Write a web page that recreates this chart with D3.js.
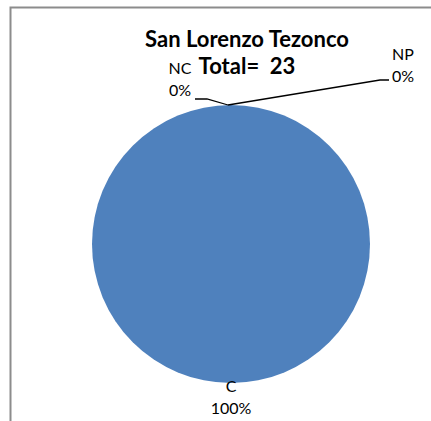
<!DOCTYPE html>
<html>
<head>
<meta charset="utf-8">
<script src="https://cdn.jsdelivr.net/npm/d3@7"></script>
<style>
  body { margin: 0; background: #fff; }
  text { font-family: Lato, "Open Sans", sans-serif; white-space: pre; }
</style>
</head>
<body>
<div id="chart"></div>
<script>
const categories = ["C", "NC", "NP"]
const values = [23, 0, 0]
const title = "San Lorenzo Tezonco"
const subtitle = "Total=  23"

const width = 431
const height = 421
const cx = 231, cy = 244, radius = 139

const svg = d3.select("#chart")
    .append("svg")
    .attr("width", width)
    .attr("height", height)

// chart frame (only left and top edges visible in the crop)
svg.append("path")
    .attr("d", "M10.5," + height + " V7.5 H" + width)
    .attr("fill", "none")
    .attr("stroke", "#8c8c8c")
    .attr("stroke-width", 2)

const total = d3.sum(values)
const data = categories.map((c, i) => ({ name: c, value: values[i] }))

const pie = d3.pie().sort(null).value(d => d.value)
const arc = d3.arc().innerRadius(0).outerRadius(radius)

const g = svg.append("g").attr("transform", `translate(${cx},${cy})`)

g.selectAll("path")
    .data(pie(data))
    .join("path")
    .attr("d", arc)
    .attr("fill", "#4f81bd")

const pct = v => Math.round(v / total * 100) + "%"

// label placement per category (offsets from pie center)
const labelPos = {
    C:  { x: 0, y: 148 },
    NC: { x: -51, y: -170, line: [[-36, -145], [-24, -145]] },
    NP: { x: 172, y: -184, line: [[158, -164], [149, -164]] }
}

const labels = g.selectAll(".lbl")
    .data(pie(data))
    .join("g")
    .attr("class", "lbl")

labels.each(function(d) {
    const p = labelPos[d.data.name]
    const sel = d3.select(this)
    if (p.line) {
        // leader line from label to the arc edge
        const a = d.startAngle
        const edge = [Math.sin(a) * radius - 3, -Math.cos(a) * radius]
        sel.append("polyline")
            .attr("points", [p.line[0], p.line[1], edge].map(q => q.join(",")).join(" "))
            .attr("fill", "none")
            .attr("stroke", "#000")
            .attr("stroke-width", 1.3)
    }
    const t = sel.append("text")
        .attr("text-anchor", "middle")
        .attr("font-size", 16)
        .attr("fill", "#000")
    t.append("tspan").attr("x", p.x).attr("y", p.y).text(d.data.name)
    t.append("tspan").attr("x", p.x).attr("y", p.y + 22).text(pct(d.data.value))
})

svg.append("text")
    .attr("x", 247)
    .attr("y", 47)
    .attr("text-anchor", "middle")
    .attr("font-size", 22)
    .attr("font-weight", "bold")
    .text(title)

svg.append("text")
    .attr("x", 247)
    .attr("y", 74)
    .attr("text-anchor", "middle")
    .attr("font-size", 22)
    .attr("font-weight", "bold")
    .text(subtitle)
</script>
</body>
</html>
